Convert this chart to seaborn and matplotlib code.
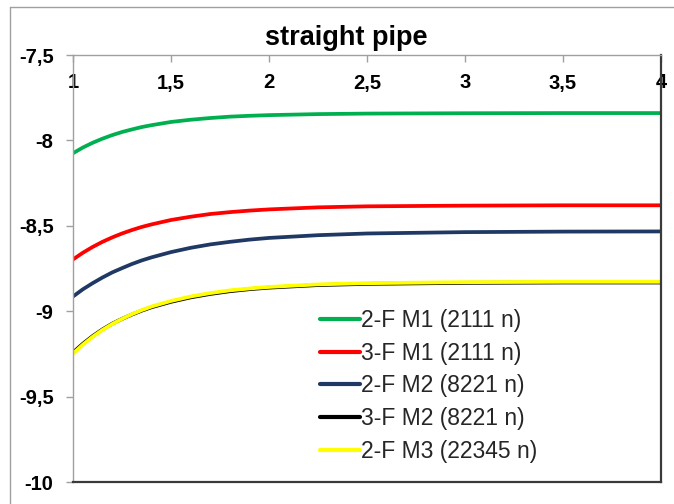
import numpy as np
import pandas as pd
import matplotlib
matplotlib.use("Agg")
import matplotlib.pyplot as plt
from matplotlib.lines import Line2D
import seaborn as sns

# ---- data ----
x_vals = [1.0, 1.05, 1.1, 1.15, 1.2, 1.25, 1.3, 1.35, 1.4, 1.5, 1.6, 1.7, 1.8, 1.9, 2.0,
          2.25, 2.5, 3.0, 3.5, 4.0]
green_2F_M1 = [-8.075, -8.042, -8.014, -7.990, -7.969, -7.951, -7.936, -7.922, -7.911, -7.892,
               -7.879, -7.869, -7.861, -7.856, -7.852, -7.846, -7.843, -7.841, -7.840, -7.840]
red_3F_M1 = [-8.697, -8.658, -8.624, -8.594, -8.568, -8.545, -8.525, -8.507, -8.492, -8.466,
             -8.447, -8.431, -8.420, -8.411, -8.404, -8.392, -8.386, -8.382, -8.380, -8.380]
navy_2F_M2 = [-8.914, -8.872, -8.836, -8.803, -8.773, -8.748, -8.724, -8.703, -8.685, -8.654,
              -8.629, -8.609, -8.594, -8.581, -8.571, -8.555, -8.545, -8.537, -8.534, -8.533]
black_3F_M2 = [-9.242, -9.191, -9.146, -9.107, -9.073, -9.045, -9.020, -8.997, -8.977, -8.945,
               -8.919, -8.899, -8.883, -8.871, -8.862, -8.847, -8.840, -8.834, -8.832, -8.832]
yellow_2F_M3 = [-9.248, -9.196, -9.150, -9.110, -9.075, -9.045, -9.018, -8.994, -8.973, -8.940,
                -8.914, -8.894, -8.878, -8.867, -8.858, -8.843, -8.836, -8.830, -8.828, -8.828]

series_names = ["2-F M1 (2111 n)", "3-F M1 (2111 n)", "2-F M2 (8221 n)", "3-F M2 (8221 n)", "2-F M3 (22345 n)"]
series_values = [green_2F_M1, red_3F_M1, navy_2F_M2, black_3F_M2, yellow_2F_M3]
series_colors = ["#00b050", "#ff0000", "#1f3864", "#000000", "#ffff00"]

x_ticks = [1.0, 1.5, 2.0, 2.5, 3.0, 3.5, 4.0]
x_ticklabels = ["1", "1,5", "2", "2,5", "3", "3,5", "4"]
y_ticks = [-10.0, -9.5, -9.0, -8.5, -8.0, -7.5]
y_ticklabels = ["-10", "-9,5", "-9", "-8,5", "-8", "-7,5"]
title_text = "straight pipe"

rows = []
for name, vals in zip(series_names, series_values):
    for xv, yv in zip(x_vals, vals):
        rows.append({"x": xv, "y": yv, "series": name})
df = pd.DataFrame(rows)

sns.set_style("white")
plt.rcParams["font.family"] = ["Liberation Sans", "DejaVu Sans"]

W, H = 674, 504
fig = plt.figure(figsize=(W / 100, H / 100), dpi=100)
L, R, T, B = 73, 661, 55, 482
ax = fig.add_axes([L / W, 1 - B / H, (R - L) / W, (B - T) / H])

sns.lineplot(data=df, x="x", y="y", hue="series", hue_order=series_names,
             palette=dict(zip(series_names, series_colors)), linewidth=2.7,
             sort=False, ax=ax, legend=False)

ax.set_xlim(1, 4)
ax.set_ylim(-10, -7.5)
ax.set_xlabel("")
ax.set_ylabel("")

ax.set_xticks(x_ticks)
ax.set_xticklabels(x_ticklabels)
ax.set_yticks(y_ticks)
ax.set_yticklabels(y_ticklabels)

ax.xaxis.set_ticks_position("top")
ax.tick_params(axis="x", which="both", top=True, bottom=False, labeltop=True, labelbottom=False,
               direction="in", length=5, width=1, color="#a0a0a0", pad=-27,
               labelsize=14.5)
ax.tick_params(axis="y", which="both", left=True, direction="out", length=5, width=1,
               color="#a0a0a0", pad=9, labelsize=14.5)
for lab in ax.get_xticklabels() + ax.get_yticklabels():
    lab.set_fontweight("bold")
    lab.set_color("black")

for s in ["top", "left"]:
    ax.spines[s].set_color("#a0a0a0")
    ax.spines[s].set_linewidth(1.0)
for s in ["right", "bottom"]:
    ax.spines[s].set_color("#3a3a3a")
    ax.spines[s].set_linewidth(1.6)
for s in ax.spines.values():
    s.set_visible(True)
ax.grid(False)

handles = [Line2D([], [], color=c, linewidth=3) for c in series_colors]
leg = ax.legend(handles, series_names, loc="upper left", bbox_to_anchor=(0.42, 0.405),
                frameon=False, fontsize=16.5, handlelength=1.75, handletextpad=0.05,
                labelspacing=0.42, borderpad=0, borderaxespad=0)

fig.text(346 / W, 1 - 45 / H, title_text, ha="center", va="baseline",
         fontsize=19.5, fontweight="bold", color="black")

# outer chart frame (top and left sides, gray)
fig.add_artist(Line2D([10 / W, 1.0], [1 - 7 / H, 1 - 7 / H], color="#a0a0a0", linewidth=1.0,
                      transform=fig.transFigure))
fig.add_artist(Line2D([10 / W, 10 / W], [0.0, 1 - 7 / H], color="#a0a0a0", linewidth=1.0,
                      transform=fig.transFigure))

fig.savefig("out.png", dpi=100)
